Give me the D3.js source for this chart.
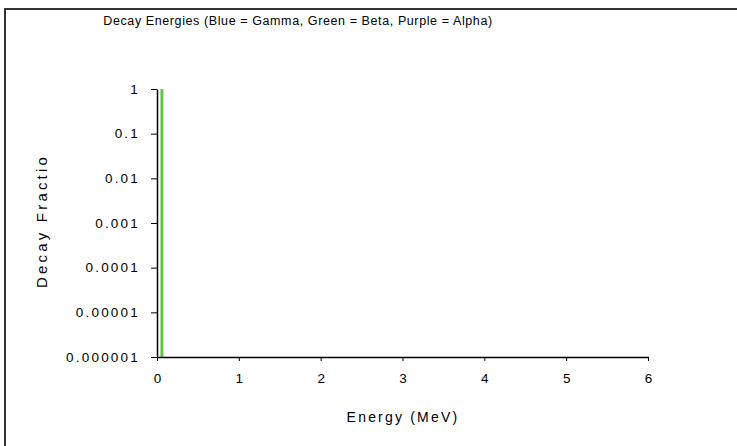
<!DOCTYPE html>
<html>
<head>
<meta charset="utf-8">
<script src="https://cdn.jsdelivr.net/npm/d3@7"></script>
<style>
  body { margin: 0; background: #fff; }
  text { font-family: "Liberation Sans", Arial, sans-serif; fill: #000; }
</style>
</head>
<body>
<div id="container"></div>
<script>
// Decay lines: energy (MeV) and decay fraction
var gammaEnergy = [];
var gammaFraction = [];
var betaEnergy = [0.06];
var betaFraction = [1];
var alphaEnergy = [];
var alphaFraction = [];

var xTicks = [0, 1, 2, 3, 4, 5, 6];
var yTicks = [1, 0.1, 0.01, 0.001, 0.0001, 0.00001, 0.000001];
var yTickLabels = ["1", "0.1", "0.01", "0.001", "0.0001", "0.00001", "0.000001"];

var width = 737, height = 446;

var svg = d3.select("#container")
  .append("svg")
  .attr("width", width)
  .attr("height", height);

// outer frame
svg.append("rect")
  .attr("x", 5).attr("y", 9)
  .attr("width", 760).attr("height", 460)
  .attr("fill", "none")
  .attr("stroke", "#333")
  .attr("stroke-width", 2);

var x = d3.scaleLinear().domain([0, 6]).range([157, 648]);
var y = d3.scaleLog().domain([0.000001, 1]).range([357, 89]);

// title
svg.append("text")
  .attr("x", 298).attr("y", 25)
  .attr("text-anchor", "middle")
  .style("font-size", "12.5px")
  .style("letter-spacing", "0.6px")
  .text("Decay Energies (Blue = Gamma, Green = Beta, Purple = Alpha)");

// bars
function drawSeries(en, fr, color) {
  svg.selectAll(null)
    .data(en)
    .enter().append("line")
    .attr("x1", function(d) { return x(d); })
    .attr("x2", function(d) { return x(d); })
    .attr("y1", y(0.000001))
    .attr("y2", function(d, i) { return y(fr[i]); })
    .attr("stroke", color)
    .attr("stroke-width", 3);
}
drawSeries(gammaEnergy, gammaFraction, "#3355cc");
drawSeries(betaEnergy, betaFraction, "#62c44c");
drawSeries(alphaEnergy, alphaFraction, "#8844aa");

// x axis
var xAxis = svg.append("g")
  .attr("transform", "translate(0," + y(0.000001) + ")")
  .call(d3.axisBottom(x).tickValues(xTicks).tickFormat(d3.format("d")).tickSizeInner(4).tickSizeOuter(0).tickPadding(12));
xAxis.selectAll("text").style("font-size", "13.5px");
xAxis.select(".domain").attr("stroke-width", 1.5);

// y axis
var yAxis = svg.append("g")
  .attr("transform", "translate(" + x(0) + ",0)")
  .call(d3.axisLeft(y).tickValues(yTicks).tickFormat(function(d, i) { return yTickLabels[i]; }).tickSizeInner(6).tickSizeOuter(0).tickPadding(11));
yAxis.selectAll("text").style("font-size", "13.5px").style("letter-spacing", "2.2px");
yAxis.select(".domain").attr("stroke-width", 1.5);

// axis titles
svg.append("text")
  .attr("x", 403).attr("y", 422)
  .attr("text-anchor", "middle")
  .style("font-size", "14px")
  .style("letter-spacing", "2.2px")
  .text("Energy (MeV)");

svg.append("text")
  .attr("transform", "translate(47,221) rotate(-90)")
  .attr("text-anchor", "middle")
  .style("font-size", "15px")
  .style("letter-spacing", "3.2px")
  .text("Decay Fractio");
</script>
</body>
</html>
